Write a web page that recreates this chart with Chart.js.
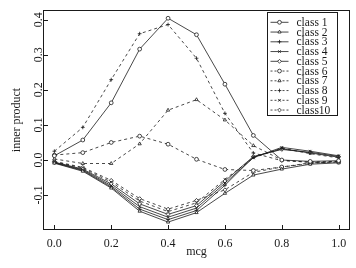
<!DOCTYPE html>
<html><head><meta charset="utf-8">
<script src="https://cdn.jsdelivr.net/npm/chart.js@4/dist/chart.umd.min.js"></script>
<style>html,body{margin:0;padding:0;background:#fff}#wrap{width:356px;height:268px;position:relative}</style>
</head><body><div id="wrap"><canvas id="c" width="356" height="268"></canvas></div>
<script>
// ---- data ----
const mcg = [0.0, 0.1, 0.2, 0.3, 0.4, 0.5, 0.6, 0.7, 0.8, 0.9, 1.0];
const seriesNames = ['class 1','class 2','class 3','class 4','class 5','class 6','class 7','class 8','class 9','class10'];
const class1  = [0.012, 0.057, 0.163, 0.316, 0.404, 0.357, 0.216, 0.070, 0.000, -0.004, -0.002];
const class2  = [-0.009, -0.032, -0.080, -0.146, -0.177, -0.150, -0.095, -0.043, -0.026, -0.012, -0.008];
const class3  = [-0.008, -0.030, -0.077, -0.140, -0.170, -0.144, -0.072, 0.008, 0.032, 0.020, 0.008];
const class4  = [-0.007, -0.028, -0.073, -0.133, -0.163, -0.137, -0.066, 0.007, 0.036, 0.025, 0.012];
const class5  = [-0.006, -0.026, -0.068, -0.125, -0.155, -0.130, -0.060, 0.010, 0.030, 0.022, 0.010];
const class6  = [0.014, 0.021, 0.050, 0.068, 0.045, 0.002, -0.027, -0.030, -0.020, -0.008, -0.006];
const class7  = [0.003, -0.010, -0.010, 0.046, 0.142, 0.172, 0.114, 0.041, 0.000, -0.007, -0.005];
const class8  = [0.025, 0.093, 0.229, 0.360, 0.386, 0.290, 0.133, 0.020, -0.002, -0.006, -0.004];
const class9  = [-0.005, -0.023, -0.063, -0.117, -0.147, -0.122, -0.055, 0.006, 0.034, 0.018, 0.006];
const class10 = [-0.004, -0.021, -0.058, -0.110, -0.140, -0.115, -0.085, -0.035, -0.020, -0.010, -0.004];
const xTicks = [0.0, 0.2, 0.4, 0.6, 0.8, 1.0];
const yTicks = [-0.1, 0.0, 0.1, 0.2, 0.3, 0.4];
const xTitle = 'mcg';
const yTitle = 'inner product';

// ---- styling ----
const allSeries = [class1, class2, class3, class4, class5, class6, class7, class8, class9, class10];
const markers = ['circle','triangle','cross','crossRot','rectRot','circle','triangle','cross','crossRot','rectRot'];
const FONT = '"Liberation Serif", "DejaVu Serif", serif';
const INK = '#1a1a1a';
const PR = 1.9;

const datasets = allSeries.map((arr, i) => ({
  label: seriesNames[i],
  data: mcg.map((x, j) => ({x: x, y: arr[j]})),
  borderColor: INK,
  backgroundColor: '#fff',
  borderWidth: 0.8,
  borderDash: i < 5 ? [] : [3, 3],
  pointStyle: markers[i],
  pointRadius: PR,
  pointBorderWidth: 0.8,
  pointBackgroundColor: '#fff',
  pointBorderColor: INK,
  tension: 0
}));

const fmt = v => (v < 0 ? '-' : '') + Math.abs(v).toFixed(1);

const framePlugin = {
  id: 'frame',
  afterDraw(chart) {
    const {ctx, chartArea: a, scales: {x, y}} = chart;
    ctx.save();
    ctx.strokeStyle = INK;
    ctx.lineWidth = 1;
    ctx.setLineDash([]);
    ctx.strokeRect(a.left + 0.5, a.top + 0.5, a.right - a.left - 1, a.bottom - a.top - 1);
    // inward ticks
    ctx.beginPath();
    xTicks.forEach(v => {
      const px = Math.round(x.getPixelForValue(v)) + 0.5;
      ctx.moveTo(px, a.bottom); ctx.lineTo(px, a.bottom - 5);
    });
    yTicks.forEach(v => {
      const py = Math.round(y.getPixelForValue(v)) + 0.5;
      ctx.moveTo(a.left, py); ctx.lineTo(a.left + 5, py);
    });
    ctx.stroke();
    // rotated y tick labels
    ctx.fillStyle = INK;
    ctx.font = '12px ' + FONT;
    ctx.textAlign = 'center';
    ctx.textBaseline = 'alphabetic';
    yTicks.forEach(v => {
      const py = y.getPixelForValue(v);
      ctx.save();
      ctx.translate(a.left - 1.5, py);
      ctx.rotate(-Math.PI / 2);
      ctx.fillText(fmt(v), 0, 0);
      ctx.restore();
    });
    // legend
    const bx = a.right - 83, by = a.top + 2, bw = 70, bh = 103;
    ctx.fillStyle = '#fff';
    ctx.fillRect(bx, by, bw, bh);
    ctx.strokeRect(Math.round(bx) + 0.5, Math.round(by) + 0.5, bw, bh);
    ctx.font = '11.5px ' + FONT;
    ctx.textAlign = 'left';
    ctx.textBaseline = 'middle';
    chart.data.datasets.forEach((ds, i) => {
      const ry = by + 10.3 + i * 9.75;
      ctx.save();
      ctx.strokeStyle = INK;
      ctx.lineWidth = 0.8;
      ctx.setLineDash(ds.borderDash.length ? [2, 2] : []);
      ctx.beginPath();
      ctx.moveTo(bx + 3.5, ry); ctx.lineTo(bx + 21.5, ry);
      ctx.stroke();
      ctx.setLineDash([]);
      ctx.fillStyle = '#fff';
      ctx.lineWidth = 0.8;
      Chart.helpers.drawPoint(ctx, {pointStyle: ds.pointStyle, rotation: 0, radius: PR, borderWidth: 0.8}, bx + 12.5, ry);
      ctx.restore();
      ctx.fillStyle = INK;
      ctx.fillText(ds.label, bx + 29.5, ry + 0.5);
    });
    ctx.restore();
  }
};

new Chart(document.getElementById('c'), {
  type: 'line',
  data: {datasets: datasets},
  plugins: [framePlugin],
  options: {
    responsive: false,
    animation: false,
    devicePixelRatio: 1,
    layout: {padding: {top: 10, right: 6, left: 0, bottom: 0}},
    plugins: {legend: {display: false}, tooltip: {enabled: false}},
    scales: {
      x: {
        type: 'linear', min: -0.04, max: 1.04,
        afterFit: s => { s.height = 38; },
        afterBuildTicks: s => { s.ticks = xTicks.map(v => ({value: v})); },
        grid: {display: false, drawTicks: false},
        border: {display: false},
        ticks: {color: INK, font: {family: FONT, size: 12}, padding: 7, autoSkip: false, maxRotation: 0,
                callback: v => fmt(v)},
        title: {display: true, text: xTitle, color: INK, font: {family: FONT, size: 12}, padding: {top: 0, bottom: 8.8}}
      },
      y: {
        type: 'linear', min: -0.1995, max: 0.4275,
        afterFit: s => { s.width = 43; },
        afterBuildTicks: s => { s.ticks = yTicks.map(v => ({value: v})); },
        grid: {display: false, drawTicks: false},
        border: {display: false},
        ticks: {display: false},
        title: {display: true, text: yTitle, color: INK, font: {family: FONT, size: 12}, padding: {top: 9.5, bottom: 0}}
      }
    }
  }
});
</script>
</body></html>
